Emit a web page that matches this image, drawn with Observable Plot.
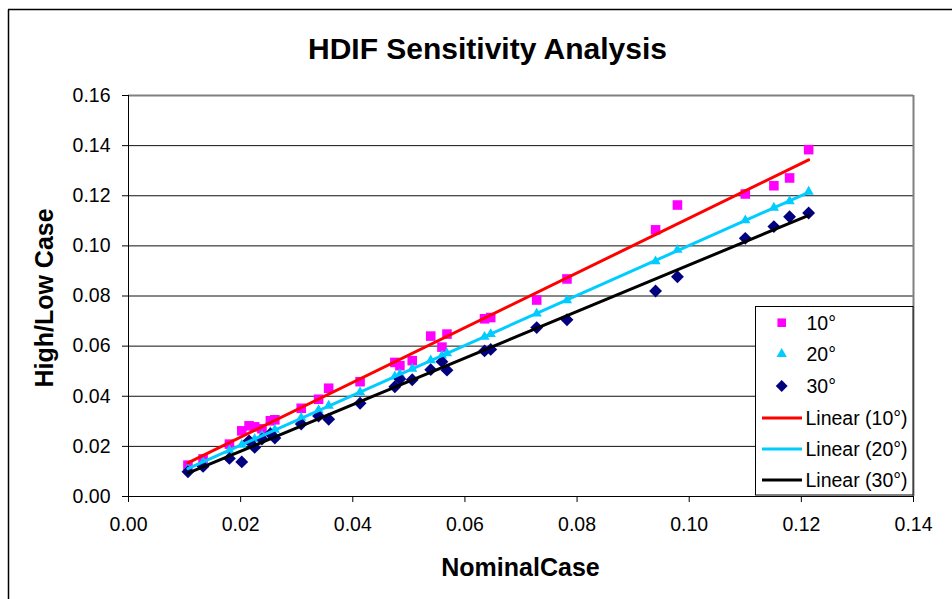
<!DOCTYPE html>
<html>
<head>
<meta charset="utf-8">
<script src="https://cdn.jsdelivr.net/npm/d3@7"></script>
<script src="https://cdn.jsdelivr.net/npm/@observablehq/plot@0.6"></script>
<style>
  html, body { margin: 0; padding: 0; background: white; }
  #chart { width: 952px; height: 599px; }
</style>
</head>
<body>
<div id="chart"></div>
<script>
// Nominal case (x) values
const nominal = [0.0106, 0.0133, 0.0180, 0.0202, 0.0215, 0.0225, 0.0238, 0.0253, 0.0261, 0.0308,
                 0.0339, 0.0357, 0.0413, 0.0475, 0.0484, 0.0506, 0.0539, 0.0559, 0.0568, 0.0635,
                 0.0646, 0.0728, 0.0782, 0.0940, 0.0979, 0.1100, 0.1151, 0.1179, 0.1213];
// 10° series (pink squares)
const deg10 = [0.0125, 0.0150, 0.0209, 0.0262, 0.0282, 0.0278, 0.0270, 0.0302, 0.0306, 0.0352,
               0.0388, 0.0432, 0.0458, 0.0535, 0.0522, 0.0542, 0.0640, 0.0596, 0.0648, 0.0709,
               0.0714, 0.0784, 0.0868, 0.1064, 0.1163, 0.1207, 0.1240, 0.1271, 0.1384];
// 20° series (cyan triangles)
const deg20 = [0.0110, 0.0136, 0.0183, 0.0206, 0.0220, 0.0229, 0.0243, 0.0258, 0.0266, 0.0314,
               0.0345, 0.0362, 0.0416, 0.0479, 0.0488, 0.0510, 0.0543, 0.0562, 0.0571, 0.0637,
               0.0648, 0.0730, 0.0783, 0.0938, 0.0984, 0.1102, 0.1152, 0.1178, 0.1216];
// 30° series (navy diamonds)
const deg30 = [0.0099, 0.0120, 0.0152, 0.0138, 0.0222, 0.0196, 0.0229, 0.0250, 0.0233, 0.0289,
               0.0321, 0.0308, 0.0372, 0.0438, 0.0469, 0.0466, 0.0506, 0.0538, 0.0504, 0.0581,
               0.0587, 0.0674, 0.0705, 0.0820, 0.0877, 0.1030, 0.1077, 0.1116, 0.1131];

const xTicks = [0, 0.02, 0.04, 0.06, 0.08, 0.10, 0.12, 0.14];
const yTicks = [0, 0.02, 0.04, 0.06, 0.08, 0.10, 0.12, 0.14, 0.16];
const seriesNames = ["10°", "20°", "30°"];
const trendNames = ["Linear (10°)", "Linear (20°)", "Linear (30°)"];
const titleText = "HDIF Sensitivity Analysis";
const xTitle = "NominalCase";
const yTitle = "High/Low Case";

const colors = {pink: "#FF00FF", cyan: "#00CCFF", navy: "#000080", red: "#FF0000", black: "#000000"};
const FONT = "'Liberation Sans', Arial, sans-serif";

const toRows = (ys) => nominal.map((x, i) => ({x, y: ys[i]}));
const d10 = toRows(deg10), d20 = toRows(deg20), d30 = toRows(deg30);
const fmt = d3.format(".2f");

const R_SQ = 5.4, R_TRI = 3.8, R_DIA = 5.8;

const plot = Plot.plot({
  width: 952,
  height: 599,
  marginLeft: 128,
  marginRight: 39,
  marginTop: 95,
  marginBottom: 103,
  x: {domain: [0, 0.14]},
  y: {domain: [0, 0.16]},
  style: {fontFamily: FONT, fontSize: "19.5px", background: "white", color: "black", overflow: "visible"},
  marks: [
    Plot.ruleY(yTicks.filter(v => v > 0 && v < 0.16), {stroke: "#111", strokeWidth: 1}),
    Plot.ruleY([0.16], {stroke: "#808080", strokeWidth: 2}),
    Plot.ruleX([0.14], {stroke: "#808080", strokeWidth: 2}),
    Plot.axisX({ticks: xTicks, tickSize: 6, tickPadding: 15, tickFormat: fmt, label: null, fontSize: 19.5}),
    Plot.axisY({ticks: yTicks, tickSize: 6, tickPadding: 12, tickFormat: fmt, label: null, fontSize: 19.5}),
    Plot.ruleX([0], {stroke: "black", strokeWidth: 1}),
    Plot.ruleY([0], {stroke: "black", strokeWidth: 1}),
    Plot.dot(d10, {x: "x", y: "y", symbol: "square", fill: colors.pink, r: R_SQ}),
    Plot.dot(d20, {x: "x", y: "y", symbol: "triangle", fill: colors.cyan, r: R_TRI}),
    Plot.dot(d30, {x: "x", y: "y", symbol: "diamond2", fill: colors.navy, r: R_DIA}),
    Plot.linearRegressionY(d10, {x: "x", y: "y", stroke: colors.red, strokeWidth: 3, ci: 0}),
    Plot.linearRegressionY(d20, {x: "x", y: "y", stroke: colors.cyan, strokeWidth: 3, ci: 0}),
    Plot.linearRegressionY(d30, {x: "x", y: "y", stroke: colors.black, strokeWidth: 3, ci: 0})
  ]
});

document.getElementById("chart").appendChild(plot);

const svg = d3.select(plot);
// Outer chart border (left & top)
svg.append("line").attr("x1", 8.5).attr("y1", 9.5).attr("x2", 8.5).attr("y2", 599)
  .attr("stroke", "black").attr("stroke-width", 1.5);
svg.append("line").attr("x1", 8).attr("y1", 9.5).attr("x2", 952).attr("y2", 9.5)
  .attr("stroke", "black").attr("stroke-width", 1.5);

// Title
svg.append("text").attr("x", 487.5).attr("y", 58.5).attr("text-anchor", "middle")
  .attr("font-family", FONT).attr("font-weight", "bold").attr("font-size", 30)
  .attr("fill", "black").text(titleText);
// X title
svg.append("text").attr("x", 520.5).attr("y", 576).attr("text-anchor", "middle")
  .attr("font-family", FONT).attr("font-weight", "bold").attr("font-size", 25)
  .attr("fill", "black").text(xTitle);
// Y title
svg.append("text").attr("transform", "translate(53,298) rotate(-90)").attr("text-anchor", "middle")
  .attr("font-family", FONT).attr("font-weight", "bold").attr("font-size", 25)
  .attr("fill", "black").text(yTitle);

// Legend
const lg = svg.append("g");
lg.append("rect").attr("x", 755.5).attr("y", 306.5).attr("width", 157.5).attr("height", 188.5)
  .attr("fill", "white").attr("stroke", "black").attr("stroke-width", 1);
const rowsY = [322.7, 354, 386, 418, 449, 480];
const markerX = 781.7, textX = 806.5;
const symDefs = [
  {sym: d3.symbolSquare, size: Math.PI * R_SQ * R_SQ * 0.8, fill: colors.pink},
  {sym: d3.symbolTriangle, size: Math.PI * R_TRI * R_TRI, fill: colors.cyan},
  {sym: d3.symbolDiamond2, size: Math.PI * R_DIA * R_DIA * 0.85, fill: colors.navy}
];
seriesNames.forEach((name, i) => {
  lg.append("path").attr("d", d3.symbol(symDefs[i].sym, symDefs[i].size)())
    .attr("transform", `translate(${markerX},${rowsY[i]})`).attr("fill", symDefs[i].fill);
  lg.append("text").attr("x", textX).attr("y", rowsY[i]).attr("dy", "0.35em")
    .attr("text-anchor", "start")
    .attr("font-family", FONT).attr("font-size", 19.5).attr("fill", "black").text(name);
});
const lineColors = [colors.red, colors.cyan, colors.black];
trendNames.forEach((name, i) => {
  const yy = rowsY[i + 3];
  lg.append("line").attr("x1", 762).attr("x2", 802).attr("y1", yy).attr("y2", yy)
    .attr("stroke", lineColors[i]).attr("stroke-width", 3);
  lg.append("text").attr("x", textX - 1).attr("y", yy).attr("dy", "0.35em")
    .attr("text-anchor", "start")
    .attr("font-family", FONT).attr("font-size", 19.5).attr("fill", "black").text(name);
});
</script>
</body>
</html>
